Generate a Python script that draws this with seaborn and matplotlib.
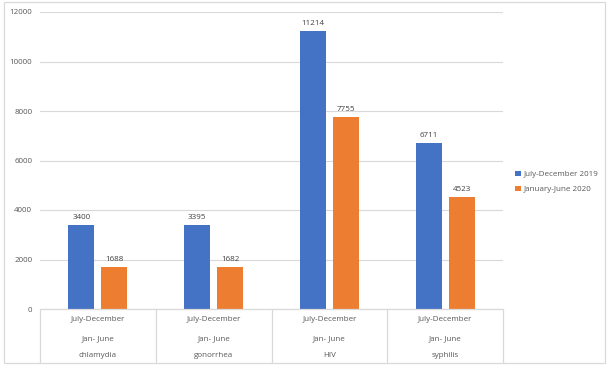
import matplotlib
matplotlib.use("Agg")
import matplotlib.pyplot as plt
import matplotlib.transforms as mtransforms
from matplotlib.patches import Rectangle
import seaborn as sns
import pandas as pd

diseases = ["chlamydia", "gonorrhea", "HIV", "syphilis"]
series_names = ["July-December 2019", "January-June 2020"]
jul_dec_2019 = [3400, 3395, 11214, 6711]
jan_jun_2020 = [1688, 1682, 7755, 4523]
row1_labels = ["July-December"] * 4
row2_labels = ["Jan- June"] * 4
yticks = [0, 2000, 4000, 6000, 8000, 10000, 12000]

df = pd.DataFrame({
    "disease": diseases * 2,
    "period": [series_names[0]] * 4 + [series_names[1]] * 4,
    "count": jul_dec_2019 + jan_jun_2020,
})

sns.set_theme(style="white")
plt.rcParams["font.family"] = ["Open Sans", "DejaVu Sans"]

fig = plt.figure(figsize=(6.11, 3.69), dpi=100)
ax = fig.add_axes([40 / 611, 60 / 369, 463 / 611, 297 / 369])

palette = {series_names[0]: "#4472C4", series_names[1]: "#ED7D31"}
sns.barplot(data=df, x="disease", y="count", hue="period", order=diseases,
            hue_order=series_names, palette=palette, width=0.57, gap=0.21,
            saturation=1, linewidth=0, edgecolor="none", ax=ax, legend=True)

txt_col = "#595959"
for cont in ax.containers:
    ax.bar_label(cont, fmt="%d", padding=3, fontsize=5.8, color="#404040")

ax.set_ylim(0, 12000)
ax.set_xlim(-0.5, 3.5)
ax.set_yticks(yticks)
ax.set_yticklabels([str(v) for v in yticks], fontsize=5.8, color=txt_col)
ax.tick_params(axis="y", length=0, pad=5.5)
ax.yaxis.grid(True, color="#D9D9D9", linewidth=0.8)
ax.set_axisbelow(True)
for s in ax.spines.values():
    s.set_visible(False)
ax.set_xticks([])
ax.set_xlabel("")
ax.set_ylabel("")

# category table below axis
trans = mtransforms.blended_transform_factory(ax.transData, ax.transAxes)
line_col = "#D9D9D9"
ax.plot([-0.5, 3.5], [0, 0], transform=trans, color=line_col, lw=0.9, clip_on=False)
for xb in [-0.5, 0.5, 1.5, 2.5, 3.5]:
    ax.plot([xb, xb], [0, -0.178], transform=trans, color=line_col, lw=0.9, clip_on=False)
for i, d in enumerate(diseases):
    ax.text(i, -0.037, row1_labels[i], transform=trans, ha="center", va="center",
            fontsize=5.8, color=txt_col)
    ax.text(i, -0.101, row2_labels[i], transform=trans, ha="center", va="center",
            fontsize=5.8, color=txt_col)
    ax.text(i, -0.158, d, transform=trans, ha="center", va="center",
            fontsize=5.8, color=txt_col)

leg = ax.legend(loc="center left", bbox_to_anchor=(512 / 611, 1 - 182 / 369),
                bbox_transform=fig.transFigure, frameon=False, fontsize=5.8,
                handlelength=0.7, handleheight=0.7, handletextpad=0.3,
                labelspacing=0.9, borderaxespad=0)
for t in leg.get_texts():
    t.set_color(txt_col)

# outer chart border
fig.patches.append(Rectangle((4 / 611, 6 / 369), 601 / 611, 361 / 369,
                             transform=fig.transFigure, fill=False,
                             edgecolor="#D9D9D9", lw=0.9))

fig.savefig("out.png", dpi=100)
